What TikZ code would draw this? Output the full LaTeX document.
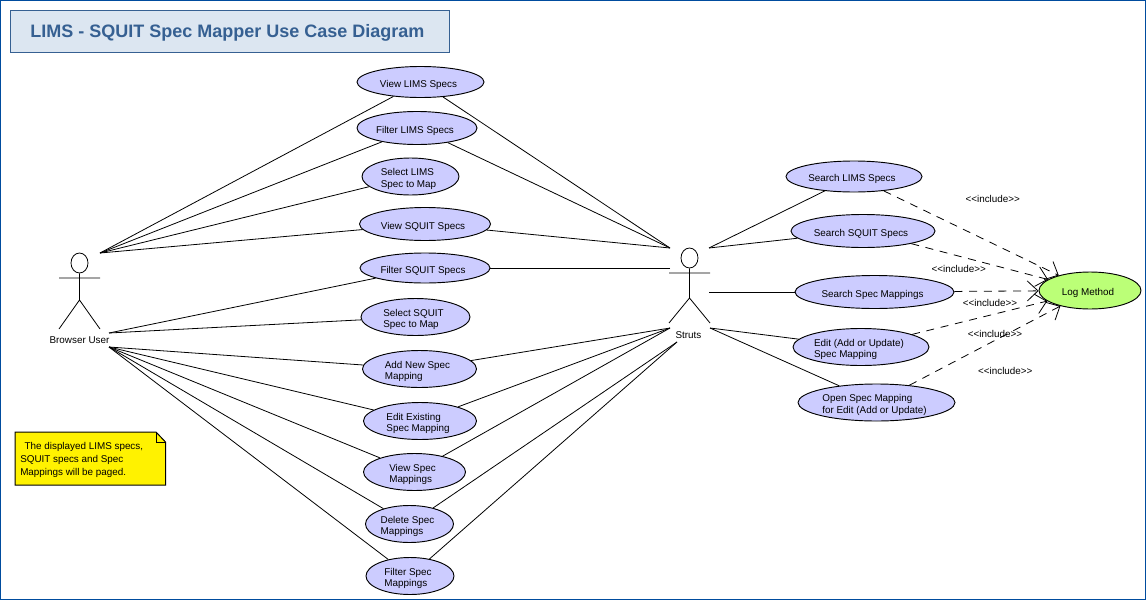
\documentclass[tikz,border=0pt]{standalone}
\usepackage{fontspec}
\setmainfont{Liberation Sans}
\usetikzlibrary{shapes.geometric,arrows.meta}
\definecolor{ucfill}{HTML}{CCCCFF}
\definecolor{logfill}{HTML}{BBFF77}
\definecolor{framecol}{HTML}{004C9E}
\definecolor{titlefill}{HTML}{DCE6F1}
\definecolor{titlecol}{HTML}{366092}
\newcommand{\ucup}{\rule{0pt}{9.2pt}\hspace*{-3pt}}
\newcommand{\ucin}{\hspace*{-3pt}}
\tikzset{
  uc/.style n args={2}{ellipse,draw,fill=ucfill,line width=.7pt,inner sep=0pt,align=left,
    minimum width=#1*.75pt,minimum height=#2*.75pt,font=\fontsize{7.4}{8.5}\selectfont},
  lbl/.style={inner sep=0pt,font=\fontsize{7.4}{8.5}\selectfont},
  incl/.style={dashed,dash pattern=on 6pt off 5pt,line width=.6pt,-{Straight Barb[length=8pt,width=15pt]}},
  assoc/.style={line width=.6pt},
  head/.style={ellipse,draw,line width=.6pt,inner sep=0pt,minimum width=12.75pt,minimum height=15pt}
}
\begin{document}
\begin{tikzpicture}[x=.75pt,y=-.75pt]
   \useasboundingbox (0,0) rectangle (1146,600);
   \draw[framecol,line width=.9pt] (.5,.5) rectangle (1145.5,599.5);

   \node[draw=titlecol,fill=titlefill,line width=.75pt,minimum width=329.25pt,minimum height=31.5pt,inner sep=0pt] (title) at (229.5,31) {};
   \node[inner sep=0pt,anchor=west,text=titlecol,font=\fontsize{13.5}{15}\bfseries\selectfont] (titletext) at (30,32.5) {LIMS - SQUIT Spec Mapper Use Case Diagram};

   \node[uc={127}{31}] (v1) at (420.5,82) {\ucup View LIMS Specs};
   \node[uc={120}{33}] (v2) at (417,128) {\ucup Filter LIMS Specs};
   \node[uc={97}{37}] (v3) at (410.5,176.5) {\ucup Select LIMS\\\ucin Spec to Map};
   \node[uc={131}{33}] (v4) at (425,224) {\ucup View SQUIT Specs};
   \node[uc={130}{30}] (v5) at (425,268) {\ucup Filter SQUIT Specs};
   \node[uc={109}{37}] (v6) at (415.5,317) {\ucup Select SQUIT\\\ucin Spec to Map};
   \node[uc={114}{37}] (v7) at (419.5,369) {\ucup Add New Spec\\\ucin Mapping};
   \node[uc={113}{37}] (v8) at (420,421) {\ucup Edit Existing\\\ucin Spec Mapping};
   \node[uc={102}{37}] (v9) at (414.5,472) {\ucup View Spec\\\ucin Mappings};
   \node[uc={88}{37}] (v10) at (409.5,524) {\ucup Delete Spec\\\ucin Mappings};
   \node[uc={88}{37}] (v11) at (410,576) {\ucup Filter Spec\\\ucin Mappings};

   \node[uc={136}{31}] (r1) at (854,176.5) {\ucup Search LIMS Specs};
   \node[uc={144}{33}] (r2) at (863,231) {\ucup Search SQUIT Specs};
   \node[uc={159}{33}] (r3) at (874.5,292) {\ucup Search Spec Mappings};
   \node[uc={136}{37}] (r4) at (861,347) {\ucup Edit (Add or Update)\\\ucin Spec Mapping};
   \node[uc={157}{37}] (r5) at (876.5,402.5) {\ucup Open Spec Mapping\\\ucin for Edit (Add or Update)};
   \node[uc={102}{37},fill=logfill] (lg) at (1090,290.5) {\ucup Log Method};

   \node[head] (bhead) at (79.5,263) {};
   \draw[assoc] (bhead.south) -- (79.5,300) -- (59,329) (79.5,300) -- (100,329) (59,278) -- (100,278);
   \node[lbl] (buser) at (79.5,340.5) {Browser User};
   \node[head] (shead) at (689.5,258) {};
   \draw[assoc] (shead.south) -- (689.5,298) -- (669,323) (689.5,298) -- (710,323) (669,273) -- (710,273);
   \node[lbl] (struts) at (688.5,335.5) {Struts};

   \coordinate (b1) at (100,253);
   \coordinate (b2) at (109,333);
   \coordinate (b3) at (109,347);
   \coordinate (s1) at (670,248);
   \coordinate (s2) at (670,268);
   \coordinate (s3) at (670,328);
   \coordinate (s4) at (677,342);
   \coordinate (t1) at (709,248);
   \coordinate (t2) at (709,292);
   \coordinate (t3) at (710,328);

   \draw[assoc] (b1) -- (v1);
   \draw[assoc] (b1) -- (v2);
   \draw[assoc] (b1) -- (v3);
   \draw[assoc] (b1) -- (v4);
   \draw[assoc] (b2) -- (v5);
   \draw[assoc] (b2) -- (v6);
   \draw[assoc] (b3) -- (v7);
   \draw[assoc] (b3) -- (v8);
   \draw[assoc] (b3) -- (v9);
   \draw[assoc] (b3) -- (v10);
   \draw[assoc] (b3) -- (v11);

   \draw[assoc] (s1) -- (v1);
   \draw[assoc] (s1) -- (v2);
   \draw[assoc] (s1) -- (v4);
   \draw[assoc] (s2) -- (v5);
   \draw[assoc] (s3) -- (v7);
   \draw[assoc] (s3) -- (v8);
   \draw[assoc] (s3) -- (v9);
   \draw[assoc] (s4) -- (v10);
   \draw[assoc] (s4) -- (v11);

   \draw[assoc] (t1) -- (r1);
   \draw[assoc] (t1) -- (r2);
   \draw[assoc] (t2) -- (r3);
   \draw[assoc] (t3) -- (r4);
   \draw[assoc] (t3) -- (r5);

   \draw[incl] (r1) -- (lg);
   \draw[incl] (r2) -- (lg);
   \draw[incl] (r3) -- (lg);
   \draw[incl] (r4) -- (lg);
   \draw[incl] (r5) -- (lg);

   \node[lbl] (i1) at (992.7,198.5) {<{}<include>{}>};
   \node[lbl] (i2) at (958.7,268.7) {<{}<include>{}>};
   \node[lbl] (i3) at (990,302.7) {<{}<include>{}>};
   \node[lbl] (i4) at (995,333.5) {<{}<include>{}>};
   \node[lbl] (i5) at (1005.3,370.5) {<{}<include>{}>};

   \draw[fill=yellow,line width=.75pt] (15,432) -- (156,432) -- (165.5,442) -- (165.5,485) -- (15,485) -- cycle;
   \draw[line width=.6pt] (156,432) -- (156,442) -- (165.5,442);
   \node[lbl,anchor=north west,align=left,font=\fontsize{7.4}{9.75}\selectfont] (note) at (20,442.5) {\hspace{3.3pt}The displayed LIMS specs,\\SQUIT specs and Spec\\Mappings will be paged.};
\end{tikzpicture}
\end{document}
